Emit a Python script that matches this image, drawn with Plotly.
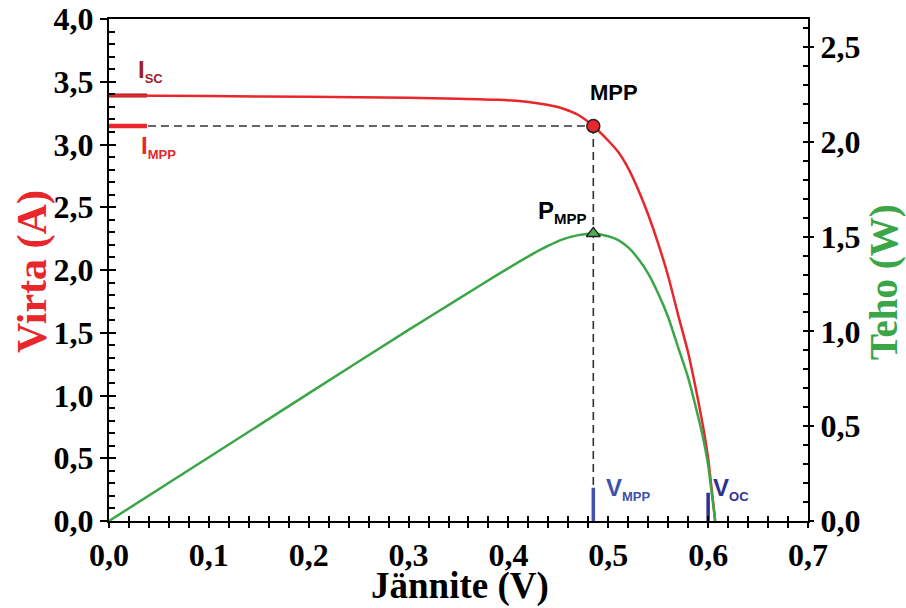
import plotly.graph_objects as go

# Solar cell I-V and P-V characteristics
voltage = [0.00, 0.10, 0.20, 0.30, 0.35, 0.39, 0.42, 0.44, 0.455, 0.47, 0.485,
           0.50, 0.51, 0.52, 0.53, 0.54, 0.55, 0.56, 0.57, 0.58, 0.59, 0.595,
           0.60, 0.603, 0.606, 0.607]
current = [3.390, 3.386, 3.380, 3.372, 3.365, 3.356, 3.338, 3.314, 3.285, 3.235, 3.147,
           3.030, 2.940, 2.810, 2.640, 2.440, 2.210, 1.950, 1.640, 1.340, 0.960, 0.750,
           0.500, 0.290, 0.080, 0.000]
power = [0.000, 0.336, 0.673, 1.008, 1.172, 1.302, 1.396, 1.452, 1.487, 1.508, 1.517,
         1.502, 1.482, 1.443, 1.383, 1.305, 1.200, 1.075, 0.915, 0.755, 0.550, 0.436,
         0.295, 0.172, 0.047, 0.000]

I_SC = 3.39
I_MPP = 3.147
V_MPP = 0.485
P_MPP = 1.517
V_OC = 0.600

RED = "#E8262B"
DARK_RED = "#8B1A1A"
GREEN = "#3AA648"
BLUE = "#3F50AE"
DARK_BLUE = "#2E3192"
DASH = "#333333"

W, H = 906, 608
L, R, T, B = 109, 98, 19, 87
PW, PH = W - L - R, H - T - B


def px(xp):
    return (xp - L) / PW


def py(yp):
    return (H - B - yp) / PH


fig = go.Figure()

# Marker bars on the axes
fig.add_trace(go.Scatter(x=[0, 0.038], y=[I_SC, I_SC], mode="lines",
                         line=dict(color=DARK_RED, width=4), hoverinfo="skip"))
fig.add_trace(go.Scatter(x=[0, 0.038], y=[I_MPP, I_MPP], mode="lines",
                         line=dict(color=RED, width=4.5), hoverinfo="skip"))
fig.add_trace(go.Scatter(x=[V_MPP, V_MPP], y=[0, 0.265], mode="lines",
                         line=dict(color=BLUE, width=3.5), hoverinfo="skip"))
fig.add_trace(go.Scatter(x=[V_OC, V_OC], y=[0, 0.225], mode="lines",
                         line=dict(color=DARK_BLUE, width=3.5), hoverinfo="skip"))

# Dashed guides to the maximum power point
fig.add_trace(go.Scatter(x=[0.039, V_MPP], y=[I_MPP, I_MPP], mode="lines",
                         line=dict(color=DASH, width=1.6, dash="8px,5px"), hoverinfo="skip"))
fig.add_trace(go.Scatter(x=[V_MPP, V_MPP], y=[I_MPP, 0.27], mode="lines",
                         line=dict(color=DASH, width=1.6, dash="8px,5px"), hoverinfo="skip"))

# Power curve (right axis)
fig.add_trace(go.Scatter(x=voltage, y=power, mode="lines", yaxis="y2",
                         line=dict(color=GREEN, width=2.5, shape="spline", smoothing=0.6)))
# Current curve (left axis)
fig.add_trace(go.Scatter(x=voltage, y=current, mode="lines",
                         line=dict(color=RED, width=2.5, shape="spline", smoothing=0.6)))

# MPP markers
fig.add_trace(go.Scatter(x=[V_MPP], y=[I_MPP], mode="markers",
                         marker=dict(symbol="circle", size=13, color=RED,
                                     line=dict(color="#222222", width=1.5))))
fig.add_trace(go.Scatter(x=[V_MPP], y=[P_MPP], mode="markers", yaxis="y2",
                         marker=dict(symbol="triangle-up", size=12, color="#4CB050",
                                     line=dict(color="#222222", width=1.5))))

# Transparent points that attach the overlay tick axes
fig.add_trace(go.Scatter(x=[0.35], y=[2.0], xaxis="x2", yaxis="y3", mode="markers",
                         marker=dict(opacity=0), hoverinfo="skip"))
fig.add_trace(go.Scatter(x=[0.35], y=[1.0], yaxis="y4", mode="markers",
                         marker=dict(opacity=0), hoverinfo="skip"))

tick_font = dict(family="Liberation Serif, Times New Roman, serif", size=32,
                 color="black", weight="bold")
x_range = [0, 0.7]
yl_range = [0, 4.0]
yr_range = [0, 2.648]

common = dict(showgrid=False, zeroline=False, automargin=False, fixedrange=True)

fig.update_layout(
    width=W, height=H,
    margin=dict(l=L, r=R, t=T, b=B, autoexpand=False),
    paper_bgcolor="white", plot_bgcolor="white",
    showlegend=False,
    separators=", ",
    xaxis=dict(range=x_range, tickmode="linear", tick0=0, dtick=0.1, tickformat=".1f",
               ticks="outside", ticklen=5, tickwidth=1.5, tickcolor="black",
               minor=dict(tickmode="linear", tick0=0, dtick=0.02, ticks="outside",
                          ticklen=5, tickwidth=1.5, tickcolor="black"),
               showline=True, linecolor="black", linewidth=2, mirror=True,
               tickfont=tick_font, ticklabelstandoff=0, **common),
    xaxis2=dict(range=x_range, overlaying="x", anchor="y", side="bottom",
                tickmode="linear", tick0=0, dtick=0.1,
                ticks="inside", ticklen=5, tickwidth=1.5,
                tickcolor="black", showticklabels=False,
                minor=dict(tickmode="linear", tick0=0, dtick=0.02, ticks="inside",
                           ticklen=5, tickwidth=1.5, tickcolor="black"),
                showline=False, **common),
    yaxis=dict(range=yl_range, tickmode="linear", tick0=0, dtick=0.5, tickformat=".1f",
               ticks="outside", ticklen=7, tickwidth=1.5, tickcolor="black",
               showline=True, linecolor="black", linewidth=2,
               tickfont=tick_font, ticklabelstandoff=0, **common),
    yaxis3=dict(range=yl_range, overlaying="y", anchor="x", side="left",
                tickmode="linear", tick0=0, dtick=0.5,
                ticks="inside", ticklen=7, tickwidth=1.5,
                tickcolor="black", showticklabels=False,
                minor=dict(tickmode="linear", tick0=0, dtick=0.1, ticks="inside",
                           ticklen=6, tickwidth=1.5, tickcolor="black"),
                showline=False, **common),
    yaxis2=dict(range=yr_range, overlaying="y", side="right", anchor="x",
                tickmode="linear", tick0=0, dtick=0.5, tickformat=".1f",
                ticks="outside", ticklen=4, tickwidth=1.5, tickcolor="black",
                showline=True, linecolor="black", linewidth=2,
                tickfont=tick_font, ticklabelstandoff=0, **common),
    yaxis4=dict(range=yr_range, overlaying="y", side="right", anchor="x",
                tickmode="linear", tick0=0, dtick=0.5,
                ticks="inside", ticklen=5, tickwidth=1.5,
                tickcolor="black", showticklabels=False,
                minor=dict(tickmode="linear", tick0=0, dtick=0.1, ticks="inside",
                           ticklen=5, tickwidth=1.5, tickcolor="black"),
                showline=False, **common),
)

title_font = "Liberation Serif, Times New Roman, serif"
label_font = "Liberation Sans, Arial, sans-serif"


def sub(main, small, size=13):
    return f"{main}<sub><span style='font-size:{size}px'>{small}</span></sub>"


def note(text, xp, yp, family, size, color, angle=0):
    return dict(text=text, x=px(xp), y=py(yp), xref="paper", yref="paper",
                xanchor="center", yanchor="middle", textangle=angle,
                showarrow=False, font=dict(family=family, size=size, color=color,
                                           weight="bold"))


annotations = [
    # axis titles
    note("Virta (A)", 32, 272, title_font, 42, RED, -90),
    note("Teho (W)", 884, 282, title_font, 39, GREEN, -90),
    note("Jännite (V)", 460, 586, title_font, 37, "black"),
    # point labels
    note(sub("I", "SC"), 150, 71, label_font, 24, "#9B2226"),
    note(sub("I", "MPP"), 158, 147, label_font, 24, RED),
    note("MPP", 614, 93, label_font, 22, "black"),
    note(sub("P", "MPP", 15), 562, 212, label_font, 24, "black"),
    note(sub("V", "MPP"), 628, 489, label_font, 24, BLUE),
    note(sub("V", "OC"), 731, 489, label_font, 24, DARK_BLUE),
]
fig.update_layout(annotations=annotations)

fig.write_html("out.html")
